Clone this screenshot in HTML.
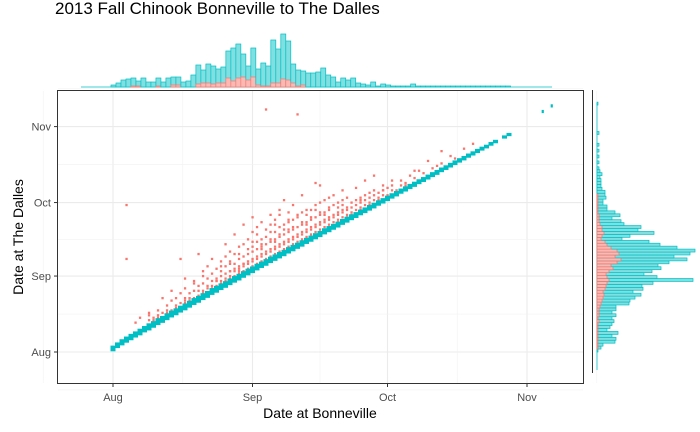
<!DOCTYPE html>
<html><head><meta charset="utf-8">
<style>
body{margin:0;background:#fff;}
svg{display:block;font-family:"Liberation Sans",sans-serif;}
</style></head>
<body>
<svg id="chart" width="700" height="432" viewBox="0 0 700 432">
<rect width="700" height="432" fill="#fff"/>
<text x="55" y="14" font-size="17" fill="#000">2013 Fall Chinook Bonneville to The Dalles</text>
<g id="grid"></g>
<g id="pts"></g>
<rect x="57.5" y="90.5" width="526" height="293" fill="none" stroke="#333" stroke-width="1"/>
<g id="topHist"></g>
<g id="rightHist"></g>
<g id="ticks"></g>
<text x="320" y="418" font-size="14" text-anchor="middle">Date at Bonneville</text>
<text transform="translate(23,237) rotate(-90)" font-size="14" text-anchor="middle">Date at The Dalles</text>
</svg>
<script>
const xTickLabels=["Aug","Sep","Oct","Nov"];
const xTickDays=[0,31,61,92];
const yTickLabels=["Aug","Sep","Oct","Nov"];
const yTickDays=[0,31,61,92];
const tealBon=[0,1,2,3,4,5,6,7,8,9,10,11,12,13,14,15,16,17,18,19,20,21,22,23,24,25,26,27,28,29,30,31,32,33,34,35,36,37,38,39,40,41,42,43,44,45,46,47,48,49,50,51,52,53,54,55,56,57,58,59,60,61,62,63,64,65,66,67,68,69,70,71,72,73,74,75,76,77,78,79,80,81,82,83,84,85,87,88,95.5,97.5];
const tealLo=[0.5,0.8,0.9,1,1,1.1,1,1.2,1,1.1,1.2,1.1,1.2,1.3,1.2,1.3,1.2,1.3,1.4,1.3,1.4,1.3,1.5,1.4,1.5,1.4,1.5,1.5,1.4,1.5,1.5,1.4,1.5,1.5,1.4,1.5,1.4,1.4,1.3,1.4,1.3,1.3,1.2,1.3,1.2,1.2,1.1,1.2,1.1,1.1,1,1.1,1,1,0.9,1,0.9,0.9,0.8,0.9,0.8,0.8,0.8,0.7,0.8,0.7,0.7,0.6,0.7,0.6,0.6,0.6,0.5,0.6,0.5,0.5,0.5,0.5,0.4,0.5,0.4,0.4,0.4,0.3,0.4,0.4,0.3,0.3,2.2,2.5];
const tealHi=[2.2,2.5,2.8,2.9,3,3,3.1,3.2,3.3,3.2,3.4,3.3,3.4,3.5,3.4,3.5,3.4,3.5,3.6,3.5,3.6,3.5,3.7,3.6,3.6,3.5,3.6,3.6,3.5,3.6,3.6,3.5,3.6,3.5,3.5,3.5,3.4,3.4,3.3,3.4,3.3,3.2,3.2,3.2,3.1,3.1,3,3.1,3,2.9,2.8,2.9,2.8,2.8,2.7,2.7,2.6,2.6,2.5,2.5,2.4,2.4,2.4,2.3,2.3,2.2,2.2,2.1,2.1,2,2,2,1.9,1.9,1.8,1.8,1.8,1.7,1.6,1.6,1.5,1.5,1.4,1.2,1.3,1.2,1,1,2.9,3.2];
const redBon=[3,3,5,6,7,8,9,10,10,11,12,13,13,14,14,15,16,16,17,18,18,19,20,20,20,21,22,22,23,24,24,24,25,25,26,26,27,27,28,28,28,29,29,30,30,30,31,31,31,32,32,32,33,33,34,34,34,34,35,35,35,36,36,36,37,37,37,38,38,38,38,39,39,40,40,40,40,41,41,41,42,42,42,42,43,43,44,44,44,45,45,45,46,46,46,46,47,47,48,48,48,49,49,50,50,50,51,51,52,52,52,53,53,54,54,55,55,56,56,57,57,58,58,59,59,60,61,61,62,63,64,65,66,68,70,72,75,78,80,12,16,19,23,26,29,33,36,39,43,47,51,55,60];
const redDal=[38,60,12,14,10,16,13,12,14,22,15,25,17,18,17,38,20,30,22,21,28,40,24,33,23,26,38,27,29,28,35,27,30,44,31,36,33,48,34,40,32,35,52,36,42,33,37,55,45,38,48,35,39,44,99,40,50,37,41,46,56,42,52,39,43,48,58,44,50,62,41,45,54,46,51,60,43,97,47,56,48,53,64,45,49,58,50,55,47,51,60,69,52,57,68,49,53,62,54,59,51,55,64,56,61,53,57,66,58,63,55,59,56,60,67,61,58,62,70,63,60,64,72,65,62,66,67,64,68,66,70,68,72,74,78,76,80,83,85,16,21,25,29,33,36,42,45,50,52,56,60,62,66];
const redBon2=[8,8,9,10,10,11,11,12,12,13,13,14,14,15,15,15,16,16,16,17,17,18,18,18,19,19,20,20,20,21,21,21,21,22,22,22,23,23,23,24,24,24,24,25,25,25,25,26,26,26,26,27,27,27,27,28,28,28,28,29,29,29,29,30,30,30,30,31,31,31,31,31,32,32,32,32,32,33,33,33,33,33,34,34,34,34,35,35,35,35,35,36,36,36,36,36,37,37,37,37,37,38,38,38,38,39,39,39,39,39,40,40,40,40,41,41,41,41,42,42,42,42,43,43,43,43,44,44,44,44,45,45,45,45,46,46,46,46,47,47,47,48,48,48,48,49,49,49,50,50,50,51,51,51,52,52,53,53,54,54,55,55,56,56,57,57,58,58,59,60,60,62,62,64,65,67,67,69,71,73,73,76];
const redDal2=[13,15,14,15,17,14,16,17,19,16,21,19,22,18,20,24,19,22,26,21,24,22,25,29,23,27,25,28,31,24,27,30,35,26,29,32,27,30,34,29,31,33,37,29,32,35,39,30,33,37,41,31,34,36,40,33,35,38,43,33,36,39,44,34,37,40,46,35,38,41,43,49,36,39,42,45,51,37,40,43,46,53,38,41,44,47,39,42,45,49,52,40,43,46,49,54,41,44,47,51,56,42,45,48,52,43,46,49,53,57,44,47,50,54,45,48,51,55,46,49,52,57,47,50,53,56,48,51,54,58,49,52,55,58,50,53,56,61,51,54,57,52,55,58,63,53,56,60,54,57,59,55,58,62,56,59,57,61,58,62,59,63,60,64,61,65,62,66,63,64,68,66,70,68,69,71,74,73,75,77,82,79];
const topTeal=[2,4,7,8,9,6,9,5,5,9,5,9,10,10,5,6,12,22,17,23,21,18,20,36,39,43,33,21,39,18,24,21,47,38,53,46,23,17,16,14,14,15,19,12,10,5,9,7,9,4,3,2,5,1,3,2,1,1,1,1,3,1,1,1,1,1,1,1,1,1,1,1,1,1,1,1,1,1,1,1];
const topRed=[0,0,0,0,1,1,0,0,0,1,0,0,2,2,0,0,0,3,4,4,3,4,4,9,6,9,10,7,10,2,1,1,4,4,8,7,4,1,2,0,0,0,0,0,0,0,0,0,0,0,0,0,0,0,0,0,0,0,0,0,0,0,0,0,0,0,0,0,0,0,0,0,0,0,0,0,0,0,0,0];
const rightTeal=[1,4,6,18,19,15,21,10,13,15,17,15,19,15,19,19,32,33,38,44,36,46,45,56,96,60,47,55,64,61,72,90,77,93,98,80,63,52,25,33,57,41,44,27,24,15,23,18,10,10,6,6,9,8,8,5,4,4,4,3,5,3,2,0,2,0,2,0,2,0,2,0,0,0,2,0,0,0,0,0,0,0,0,0,1];
const rightRed=[0,1,1,1,1,1,1,1,1,1,2,1,2,2,2,3,4,5,6,7,6,8,9,10,12,10,9,12,16,14,20,24,18,22,20,14,10,8,4,5,7,5,5,3,2,2,2,1,1,1,1,1,1,1,0,0,0,0,0,0,0,0,0,0,0,0,0,0,0,0,0,0,0,0,0,0,0,0,0,0,0,0,0,0,0];

const NS="http://www.w3.org/2000/svg";
const xS=d=>113+d*4.5;
const yS=d=>352-d*2.45;
function mk(tag,attrs,parent){const e=document.createElementNS(NS,tag);for(const k in attrs)e.setAttribute(k,attrs[k]);parent.appendChild(e);return e;}
const grid=document.getElementById('grid'),pts=document.getElementById('pts'),ticks=document.getElementById('ticks');
for(let i=0;i<xTickDays.length;i++){
  const x=xS(xTickDays[i]);
  const g=mk('line',{x1:x,x2:x,y1:91,y2:383,stroke:'#ebebeb','stroke-width':1.1},grid);
  
  
  if(i<xTickDays.length-1){const xm=xS((xTickDays[i]+xTickDays[i+1])/2);
    const m=mk('line',{x1:xm,x2:xm,y1:91,y2:383,stroke:'#f2f2f2','stroke-width':0.6},grid);
    
    }
  const t=mk('text',{x:x,y:401,'font-size':11,fill:'#4d4d4d','text-anchor':'middle'},ticks);
  t.textContent=xTickLabels[i];
  
  
  mk('line',{x1:x,x2:x,y1:384,y2:387,stroke:'#333'},ticks);
}
for(const xm of [xS(-15.5),xS(107.5)]){const m=mk('line',{x1:xm,x2:xm,y1:91,y2:383,stroke:'#f2f2f2','stroke-width':0.6},grid);
  
  }
for(let i=0;i<yTickDays.length;i++){
  const y=yS(yTickDays[i]);
  const g=mk('line',{x1:58,x2:583,y1:y,y2:y,stroke:'#ebebeb','stroke-width':1.1},grid);
  
  
  if(i<yTickDays.length-1){const ym=yS((yTickDays[i]+yTickDays[i+1])/2);
    const m=mk('line',{x1:58,x2:583,y1:ym,y2:ym,stroke:'#f2f2f2','stroke-width':0.6},grid);
    
    }
  const t=mk('text',{x:51,y:y+4,'font-size':11,fill:'#4d4d4d','text-anchor':'end'},ticks);
  t.textContent=yTickLabels[i];
  
  
  mk('line',{x1:54,x2:57,y1:y,y2:y,stroke:'#333'},ticks);
}
for(const ym of [yS(-15.5),yS(107.5)]){const m=mk('line',{x1:58,x2:583,y1:ym,y2:ym,stroke:'#f2f2f2','stroke-width':0.6},grid);
  
  }
function redPoint(b,d){
  const r=mk('rect',{x:xS(b)-1.1,y:yS(d)-1.1,width:2.3,height:2.3,fill:'#F8766D'},pts);
  
  
}
for(let i=0;i<redBon.length;i++) redPoint(redBon[i],redDal[i]);
for(let i=0;i<redBon2.length;i++) redPoint(redBon2[i],redDal2[i]);
for(let i=0;i<tealBon.length;i++){
  const d=tealBon[i];const y1=yS(d+tealHi[i]),y2=yS(d+tealLo[i]);
  const w=i>=tealBon.length-2?2.2:5;
  const r=mk('rect',{x:xS(d)-(w/2),y:y1-1,width:w,height:Math.max(2.2,y2-y1+1.5),fill:'#00BFC4'},pts);
  
  
}
const topG=document.getElementById('topHist');
mk('line',{x1:81,x2:552,y1:87,y2:87,stroke:'#00BFC4','stroke-width':0.8},topG);
const tb=1.11,tStart=-0.45;
for(let i=0;i<topTeal.length;i++){
  const x=xS(tStart+i*tb),w=tb*4.5;
  if(topTeal[i]>0){const r=mk('rect',{x:x,y:87-topTeal[i],width:w,height:topTeal[i],fill:'#7fdfe1',stroke:'#00BFC4','stroke-width':0.7},topG);
    
    }
  if(topRed[i]>0){const r=mk('rect',{x:x,y:87-topRed[i],width:w,height:topRed[i],fill:'#fcb9b4',stroke:'#F8766D','stroke-width':0.7},topG);
    
    }
}
const rightG=document.getElementById('rightHist');
mk('line',{x1:597,x2:597,y1:103,y2:370,stroke:'#00BFC4','stroke-width':0.8},rightG);
mk('line',{x1:592.5,x2:592.5,y1:90,y2:373,stroke:'#333','stroke-width':1},rightG);
const rb=1.2;
for(let i=0;i<rightTeal.length;i++){
  const y=yS((i+1)*rb),h=rb*2.45;
  if(rightTeal[i]>0){const r=mk('rect',{x:597,y:y,width:rightTeal[i],height:h,fill:'#7fdfe1',stroke:'#00BFC4','stroke-width':0.7},rightG);
    
    }
  if(rightRed[i]>0){const r=mk('rect',{x:597,y:y,width:rightRed[i],height:h,fill:'#fcb9b4',stroke:'#F8766D','stroke-width':0.7},rightG);
    
    }
}
</script>
</body></html>
